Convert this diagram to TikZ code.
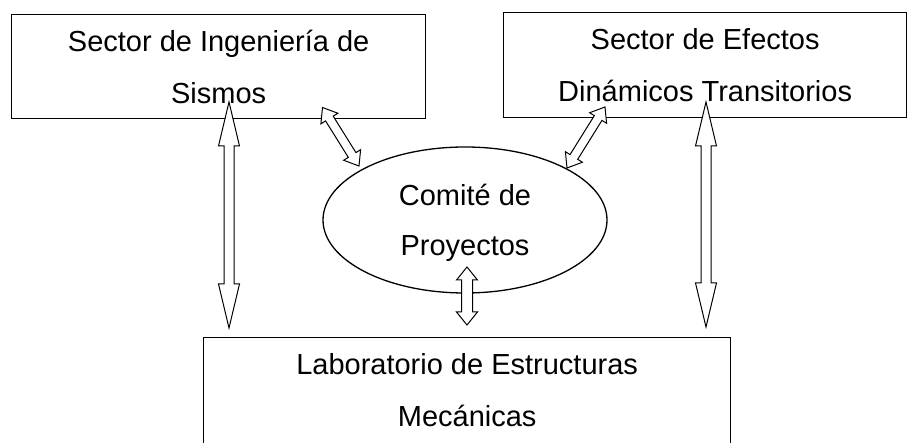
\documentclass[tikz,border=0pt]{standalone}
\usepackage{fontspec}
\setmainfont{Liberation Sans}
\usetikzlibrary{shapes.geometric,calc}
\tikzset{
 box/.style={draw, line width=1.3pt, rectangle, inner sep=0pt, align=center, font=\fontsize{29}{52}\selectfont, anchor=north west},
 oval/.style={draw, line width=1.3pt, ellipse, inner sep=0pt, align=center, font=\fontsize{29}{50}\selectfont},
 blk/.style={draw, line width=1pt, fill=white, line join=miter},
}
\newcommand\dblarrow[5]{\draw[blk] (#1) -- ($(#1)!#3!(#2)!#4!90:(#2)$) -- ($(#1)!#3!(#2)!#5!90:(#2)$) -- ($(#2)!#3!(#1)!#5!270:(#1)$) -- ($(#2)!#3!(#1)!#4!270:(#1)$) -- (#2) -- ($(#2)!#3!(#1)!#4!90:(#1)$) -- ($(#2)!#3!(#1)!#5!90:(#1)$) -- ($(#1)!#3!(#2)!#5!270:(#2)$) -- ($(#1)!#3!(#2)!#4!270:(#2)$) -- cycle;}
\begin{document}
\begin{tikzpicture}[x=1pt,y=-1pt]
\useasboundingbox (0,0) rectangle (908,443);
\fill[white] (0,0) rectangle (908,443);
\node[box, minimum width=414pt, minimum height=104pt] (b1) at (11,14) {Sector de Ingeniería de\\Sismos};
\node[box, minimum width=403pt, minimum height=105pt] (b2) at (503,12) {Sector de Efectos\\Dinámicos Transitorios};
\node[box, minimum width=527pt, minimum height=120pt, text depth=16pt] (b3) at (203,337) {Laboratorio de Estructuras\\Mecánicas};
\node[oval, minimum width=284pt, minimum height=146pt, text depth=-2pt] (c) at (465,220) {Comité de\\Proyectos};
\coordinate (l1) at (229,102);
\coordinate (l2) at (229,328);
\coordinate (r1) at (706,102);
\coordinate (r2) at (706,327);
\coordinate (m1) at (467,267);
\coordinate (m2) at (467,325);
\coordinate (dl1) at (322.5,107.5);
\coordinate (dl2) at (359,166);
\coordinate (dr1) at (605,107);
\coordinate (dr2) at (567,168);
\dblarrow{l1}{l2}{44pt}{10.5pt}{5pt}
\dblarrow{r1}{r2}{44pt}{10.5pt}{5pt}
\dblarrow{m1}{m2}{13pt}{10.5pt}{5.5pt}
\dblarrow{dl1}{dl2}{13pt}{10pt}{4.5pt}
\dblarrow{dr1}{dr2}{13pt}{10pt}{4.5pt}
\end{tikzpicture}
\end{document}
